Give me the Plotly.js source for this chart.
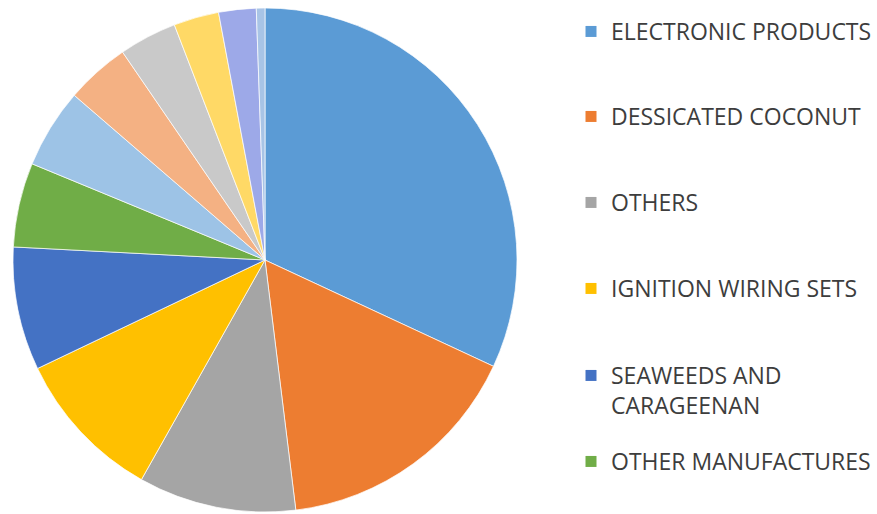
<!DOCTYPE html>
<html>
<head>
<meta charset="utf-8">
<script src="https://cdn.plot.ly/plotly-3.0.1.min.js"></script>
<style>html,body{margin:0;padding:0;background:#fff;}#chart{width:877px;height:514px;}</style>
</head>
<body>
<div id="chart"></div>
<script>
// Slice labels (only the first six are named in the reference legend)
const sliceLabels = [
  "ELECTRONIC PRODUCTS",
  "DESSICATED COCONUT",
  "OTHERS",
  "IGNITION WIRING SETS",
  "SEAWEEDS AND CARAGEENAN",
  "OTHER MANUFACTURES",
  "UNNAMED 7",
  "UNNAMED 8",
  "UNNAMED 9",
  "UNNAMED 10",
  "UNNAMED 11",
  "UNNAMED 12"
];
// Shares (%)
const sliceValues = [31.9, 16.1, 10.1, 9.75, 7.9, 5.4, 5.1, 4.1, 3.7, 2.9, 2.4, 0.55];
const sliceColors = [
  "#5B9BD5", "#ED7D31", "#A5A5A5", "#FFC000", "#4472C4", "#70AD47",
  "#9DC3E6", "#F4B183", "#C9C9C9", "#FFD966", "#9DA9E8", "#A8C4E6"
];
// Legend entries shown in the reference
const legendLabels = [
  "ELECTRONIC PRODUCTS",
  "DESSICATED COCONUT",
  "OTHERS",
  "IGNITION WIRING SETS",
  "SEAWEEDS AND<br>CARAGEENAN",
  "OTHER MANUFACTURES"
];

const W = 877, H = 514;
const traces = [{
  type: "pie",
  labels: sliceLabels,
  values: sliceValues,
  sort: false,
  direction: "clockwise",
  rotation: 0,
  textinfo: "none",
  hoverinfo: "label+percent",
  showlegend: false,
  marker: { colors: sliceColors, line: { color: "rgba(255,255,255,0.7)", width: 1 } },
  domain: { x: [13 / W, 517 / W], y: [2 / H, 506 / H] }
}];

// legend text-centre rows (px from top)
const legendRows = [34, 119, 205, 291, 378, 464];
const layout = {
  width: W, height: H,
  margin: { l: 0, r: 0, t: 0, b: 0 },
  paper_bgcolor: "#ffffff",
  plot_bgcolor: "#ffffff",
  xaxis: { visible: false, domain: [0.99, 1] },
  yaxis: { visible: false, domain: [0.99, 1] },
  font: { family: "Open Sans, sans-serif", color: "#3d3d3d" }
};

legendLabels.forEach((lab, i) => {
  const key = i === 0 ? "legend" : "legend" + (i + 1);
  traces.push({
    type: "scatter",
    mode: "markers",
    x: [null], y: [null],
    name: lab,
    legend: key,
    hoverinfo: "skip",
    marker: { symbol: "square", size: 11, color: sliceColors[i] }
  });
  const multi = lab.indexOf("<br>") >= 0;
  layout[key] = {
    x: 571 / W,
    xanchor: "left",
    y: 1 - (legendRows[i] - 24) / H,
    yanchor: "top",
    bgcolor: "rgba(0,0,0,0)",
    borderwidth: 0,
    valign: multi ? "top" : "middle",
    font: { family: "Open Sans, sans-serif", size: 23, color: "#3d3d3d" }
  };
});

Plotly.newPlot("chart", traces, layout, { displayModeBar: false, staticPlot: true });
</script>
</body>
</html>
